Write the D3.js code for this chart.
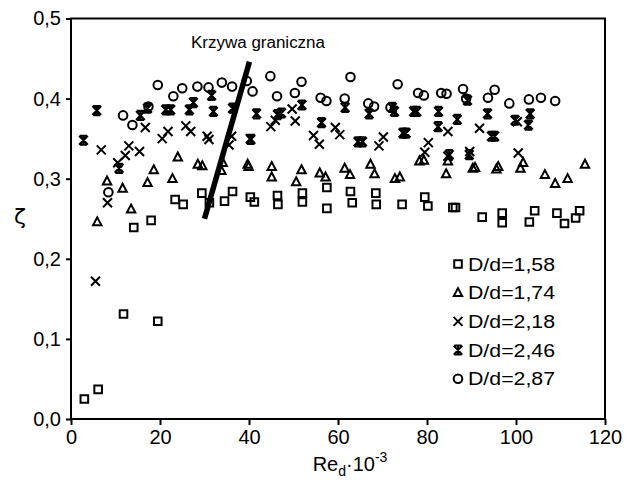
<!DOCTYPE html>
<html>
<head>
<meta charset="utf-8">
<script src="https://cdn.jsdelivr.net/npm/d3@7"></script>
<style>
  body { margin: 0; background: #fff; }
  svg text { font-family: "Liberation Sans", Arial, sans-serif; fill: #000; }
</style>
</head>
<body>
<div id="chart"></div>
<script>
// Series data: [Re_d*10^-3, zeta]
const dd158 = [[3.0,0.025],[6.1,0.037],[11.8,0.131],[19.5,0.122],[14.1,0.239],[18.0,0.248],
  [23.4,0.274],[25.2,0.268],[29.4,0.282],[31.1,0.270],[34.5,0.272],[36.3,0.284],[40.3,0.277],
  [41.2,0.271],[46.4,0.279],[46.5,0.268],[52.0,0.282],[52.0,0.271],[57.5,0.289],[57.5,0.263],
  [62.8,0.284],[63.2,0.270],[68.5,0.282],[68.6,0.268],[74.4,0.268],[79.5,0.277],[80.2,0.266],
  [85.8,0.264],[86.4,0.264],[92.4,0.252],[96.9,0.257],[96.9,0.245],[104.2,0.260],[103.0,0.246],
  [109.2,0.257],[110.9,0.244],[113.4,0.251],[114.3,0.260]];
const dd174 = [[5.9,0.246],[8.1,0.297],[11.6,0.288],[13.5,0.262],[17.2,0.295],[18.6,0.311],
  [22.8,0.300],[24.0,0.327],[28.5,0.318],[29.5,0.316],[33.8,0.310],[34.1,0.320],[39.7,0.318],
  [39.9,0.315],[45.1,0.315],[45.1,0.302],[50.6,0.296],[51.8,0.311],[55.9,0.307],[57.2,0.302],
  [61.5,0.313],[62.7,0.305],[67.3,0.318],[68.2,0.306],[72.8,0.300],[73.9,0.302],[78.3,0.322],
  [79.3,0.323],[84.3,0.306],[84.7,0.322],[90.3,0.313],[90.8,0.314],[95.6,0.312],[96.0,0.315],
  [101.0,0.313],[101.6,0.320],[106.5,0.305],[108.8,0.294],[111.6,0.300],[115.5,0.318]];
const dd218 = [[5.5,0.172],[6.8,0.336],[8.2,0.270],[10.5,0.320],[12.2,0.329],[13.0,0.341],
  [15.4,0.334],[16.7,0.364],[20.5,0.350],[21.8,0.359],[25.8,0.366],[26.9,0.359],[30.6,0.353],
  [31.0,0.349],[35.5,0.342],[36.1,0.353],[40.3,0.350],[44.9,0.365],[45.9,0.373],[49.7,0.387],
  [50.4,0.372],[54.5,0.354],[55.8,0.343],[59.4,0.364],[60.4,0.355],[69.2,0.341],[70.2,0.352],
  [79.5,0.333],[80.3,0.345],[84.7,0.359],[84.7,0.328],[89.6,0.334],[91.8,0.363],[100.5,0.332],
  [100.3,0.371]];
const dd246 = [[2.8,0.348],[5.8,0.385],[10.8,0.313],[15.6,0.379],[17.2,0.388],[21.3,0.386],
  [22.4,0.386],[26.6,0.386],[27.5,0.395],[31.6,0.404],[32.0,0.384],[36.3,0.388],[40.4,0.349],
  [41.7,0.381],[46.4,0.380],[47.3,0.382],[51.9,0.392],[56.3,0.370],[61.6,0.389],[64.5,0.346],
  [65.5,0.346],[67.0,0.381],[72.2,0.389],[72.7,0.384],[74.6,0.357],[75.3,0.357],[77.0,0.384],
  [77.7,0.384],[82.6,0.384],[82.5,0.365],[85.0,0.330],[86.8,0.374],[89.5,0.330],[89.1,0.398],
  [93.6,0.381],[94.5,0.353],[95.2,0.353],[99.8,0.373],[102.8,0.367],[103.2,0.381]];
const dd287 = [[8.4,0.283],[11.7,0.379],[13.8,0.367],[17.4,0.390],[19.5,0.417],[23.0,0.403],
  [25.0,0.413],[28.4,0.415],[30.9,0.414],[33.9,0.420],[36.2,0.415],[39.5,0.422],[40.8,0.409],
  [44.8,0.428],[46.3,0.403],[50.3,0.407],[51.8,0.421],[56.1,0.401],[57.4,0.397],[61.5,0.400],
  [62.8,0.427],[66.8,0.394],[68.1,0.390],[71.8,0.389],[73.4,0.418],[78.0,0.407],[79.3,0.404],
  [83.2,0.407],[84.4,0.406],[88.1,0.412],[88.8,0.400],[93.7,0.401],[95.2,0.411],[98.5,0.394],
  [102.9,0.399],[105.6,0.401],[108.8,0.397]];

// Boundary curve ("Krzywa graniczna") end points
const boundary = [[30, 0.25], [40.1, 0.446]];

const legendLabels = ["D/d=1,58", "D/d=1,74", "D/d=2,18", "D/d=2,46", "D/d=2,87"];
const markerKinds = ["square", "triangle", "cross", "asterisk", "circle"];
const xTicks = [0, 20, 40, 60, 80, 100, 120];
const yTicks = [0, 0.1, 0.2, 0.3, 0.4, 0.5];

const W = 633, H = 484;
const margin = { top: 18.5, right: 28, bottom: 65, left: 71 };
const width = W - margin.left - margin.right;
const height = H - margin.top - margin.bottom;

const svg = d3.select("#chart").append("svg")
  .attr("width", W).attr("height", H);

const g = svg.append("g")
  .attr("transform", `translate(${margin.left},${margin.top})`);

const x = d3.scaleLinear().domain([0, 120]).range([0, width]);
const y = d3.scaleLinear().domain([0, 0.5]).range([height, 0]);

// marker path generator, centred on 0,0
function markerPath(kind) {
  const p = d3.path();
  if (kind === "square") {
    p.rect(-3.8, -3.8, 7.6, 7.6);
  } else if (kind === "triangle") {
    p.moveTo(0, -4.6); p.lineTo(4.2, 3.4); p.lineTo(-4.2, 3.4); p.closePath();
  } else if (kind === "cross") {
    p.moveTo(-4.5, -4.5); p.lineTo(4.5, 4.5);
    p.moveTo(4.5, -4.5); p.lineTo(-4.5, 4.5);
  } else if (kind === "asterisk") {
    p.moveTo(-4.3, -4.5); p.lineTo(4.3, 4.5);
    p.moveTo(4.3, -4.5); p.lineTo(-4.3, 4.5);
    p.moveTo(-3.6, -4.5); p.lineTo(3.6, -4.5);
    p.moveTo(-3.6, 4.5); p.lineTo(3.6, 4.5);
    p.moveTo(0, -4.5); p.lineTo(0, 4.5);
  } else {
    p.arc(0, 0, 4.3, 0, 2 * Math.PI);
  }
  return p.toString();
}

const series = [dd158, dd174, dd218, dd246, dd287];

series.forEach((data, i) => {
  g.append("g").selectAll("path")
    .data(data)
    .enter().append("path")
    .attr("d", markerPath(markerKinds[i]))
    .attr("transform", d => `translate(${x(d[0])},${y(d[1])})`)
    .attr("fill", "none")
    .attr("stroke", "#000")
    .attr("stroke-width", markerKinds[i] === "asterisk" ? 2.2 : 2);
});

// boundary curve
g.append("path")
  .datum(boundary)
  .attr("d", d3.line().x(d => x(d[0])).y(d => y(d[1])))
  .attr("stroke", "#000")
  .attr("stroke-width", 5.5)
  .attr("fill", "none");

g.append("text")
  .attr("x", 258 - margin.left)
  .attr("y", 48 - margin.top)
  .attr("text-anchor", "middle")
  .attr("textLength", 134)
  .attr("lengthAdjust", "spacingAndGlyphs")
  .style("font-family", "'Liberation Sans Narrow', 'Liberation Sans', sans-serif")
  .style("font-size", "16px")
  .text("Krzywa graniczna");

// axes
const fmt = d => d3.format(".1f")(d).replace(".", ",");

const xAxis = g.append("g")
  .attr("transform", `translate(0,${height})`)
  .call(d3.axisBottom(x).tickValues(xTicks).tickSize(6).tickPadding(5).tickFormat(d3.format("d")));
const yAxis = g.append("g")
  .call(d3.axisLeft(y).tickValues(yTicks).tickSize(5).tickPadding(5).tickFormat(fmt));

[xAxis, yAxis].forEach(a => {
  a.select(".domain").remove();
  a.selectAll(".tick line").attr("stroke", "#000").attr("stroke-width", 2);
  a.selectAll(".tick text")
    .style("font-family", "'Liberation Sans', Arial, sans-serif")
    .style("font-size", "20px");
});

// frame
g.append("rect")
  .attr("x", 0).attr("y", 0)
  .attr("width", width).attr("height", height)
  .attr("fill", "none")
  .attr("stroke", "#000")
  .attr("stroke-width", 2);

// axis titles
svg.append("text")
  .attr("x", 20).attr("y", 224)
  .attr("text-anchor", "middle")
  .style("font-family", "'DejaVu Sans', sans-serif")
  .style("font-size", "22px")
  .text("ζ");

const xt = svg.append("text")
  .attr("x", 350).attr("y", 471)
  .attr("text-anchor", "middle")
  .style("font-size", "20px");
xt.append("tspan").text("Re");
xt.append("tspan").attr("dy", 5).style("font-size", "14px").text("d");
xt.append("tspan").attr("dy", -5).text("·10");
xt.append("tspan").attr("dy", -9).style("font-size", "14px").text("-3");

// legend
const legend = svg.append("g");
legendLabels.forEach((lab, i) => {
  const ly = 264 + i * 28.7;
  legend.append("path")
    .attr("d", markerPath(markerKinds[i]))
    .attr("transform", `translate(458,${ly})`)
    .attr("fill", "none")
    .attr("stroke", "#000")
    .attr("stroke-width", 2);
  legend.append("text")
    .attr("x", 468).attr("y", ly + 6.5)
    .attr("textLength", 87)
    .attr("lengthAdjust", "spacingAndGlyphs")
    .style("font-size", "18px")
    .text(lab);
});
</script>
</body>
</html>
